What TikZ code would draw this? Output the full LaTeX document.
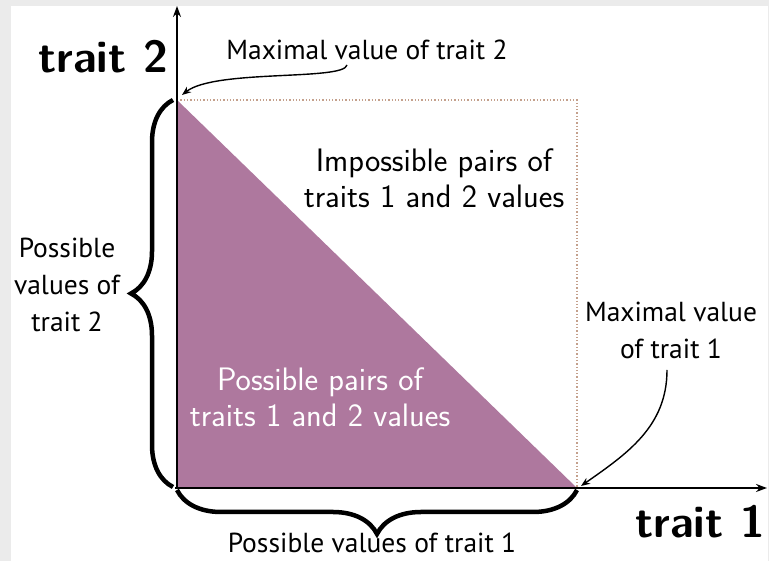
\documentclass[tikz,border=0pt]{standalone}
\usepackage{fontspec}
\newfontfamily\myr{PT Sans}
\usetikzlibrary{decorations.pathreplacing,arrows.meta}
\definecolor{bggrey}{HTML}{EBEBEB}
\definecolor{mauve}{RGB}{174,120,158}
\definecolor{dotc}{RGB}{196,160,140}
\begin{document}
\begin{tikzpicture}[x=1pt,y=1pt,
  axis/.style={line width=1.8pt,-{Stealth[length=11pt,width=8pt]}},
  arr/.style={line width=1.4pt,-{Stealth[length=9pt,width=7pt]}},
  bracestyle/.style={line width=4.5pt,decorate,decoration={brace,amplitude=#1}},
  myriad/.style={font=\myr\fontsize{27.5}{37}\selectfont,align=center,inner sep=0pt},
  cms/.style={font=\sffamily\fontsize{32.5}{36}\selectfont,align=center,inner sep=0pt},
  bigbold/.style={font=\sffamily\bfseries\fontsize{45}{50}\selectfont,inner sep=0pt}]
\useasboundingbox (0,0) rectangle (769,561);
\fill[bggrey] (0,0) rectangle (769,561);
\fill[white] (11,0) rectangle (768,555);
% key points
\coordinate (O) at (177,73);
\coordinate (T) at (177,461);
\coordinate (R) at (577,73);
\coordinate (C) at (577,461);
\coordinate (Yend) at (177,555);
\coordinate (Xend) at (767,73);
\coordinate (Xstart) at (175,73);
% region
\fill[mauve] (O) -- (T) -- (R) -- cycle;
\draw[dotc,dotted,line width=1.3pt] (T) -- (C) -- (R);
% axes
\draw[axis] (O) -- (Yend);
\draw[axis] (Xstart) -- (Xend);
% braces
\coordinate (lb1) at (173,74);
\coordinate (lb2) at (173,461);
\draw[bracestyle=42] (lb1) -- (lb2);
\coordinate (bb1) at (577,71);
\coordinate (bb2) at (177,71);
\draw[bracestyle=44] (bb1) -- (bb2);
% labels
\node[bigbold] (t2) at (103,504) {trait 2};
\node[bigbold] (t1) at (700,39) {trait 1};
\node[myriad,anchor=base] (m2) at (367,501) {Maximal value of trait 2};
\node[myriad] (m1) at (671,231) {Maximal value\\of trait 1};
\node[myriad] (pv2) at (67,276) {Possible\\values of\\trait 2};
\node[myriad,anchor=base] (pv1) at (372,8) {Possible values of trait 1};
\node[cms] (imp) at (434,383) {Impossible pairs of\\traits 1 and 2 values};
\node[cms,text=white] (pos) at (320,164) {Possible pairs of\\traits 1 and 2 values};
% arrows
\coordinate (a2s) at (347,496);
\coordinate (a2e) at (182,466);
\draw[arr] (a2s) .. controls (344,480) and (215,492) .. (a2e);
\coordinate (a1s) at (667,191);
\coordinate (a1e) at (581,75);
\draw[arr] (a1s) to[out=-90,in=35] (a1e);
\end{tikzpicture}
\end{document}
